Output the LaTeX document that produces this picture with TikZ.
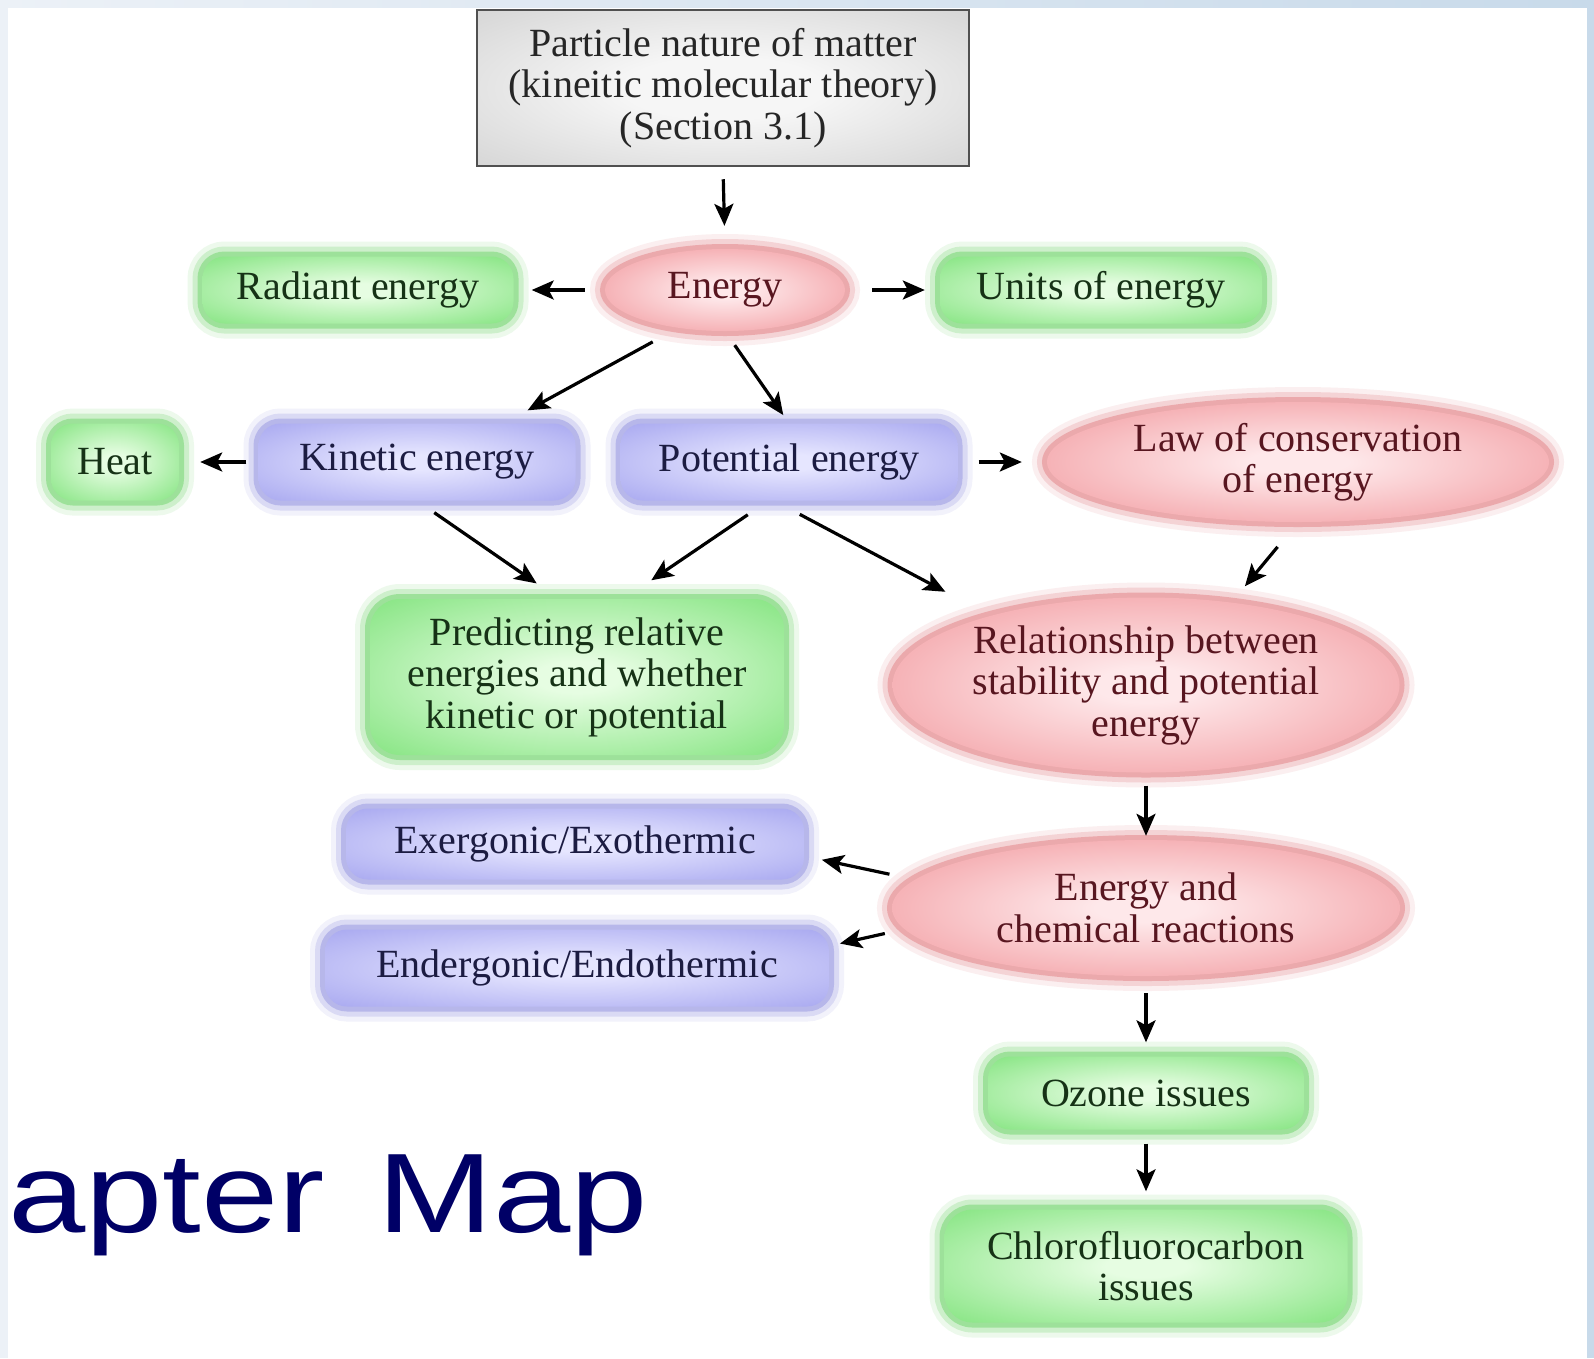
\documentclass[tikz,border=0pt]{standalone}
\usepackage{fontspec}
\setmainfont{Liberation Serif}
\newfontfamily\titlefont{Liberation Sans}
\usepackage{xcolor}
\usetikzlibrary{shapes.geometric, arrows.meta}

\definecolor{grnIn}{RGB}{230,253,226}
\definecolor{grnOut}{RGB}{108,222,104}
\definecolor{grnText}{RGB}{22,50,22}
\definecolor{redIn}{RGB}{254,232,234}
\definecolor{redOut}{RGB}{238,128,134}
\definecolor{redText}{RGB}{88,22,32}
\definecolor{bluIn}{RGB}{230,230,255}
\definecolor{bluOut}{RGB}{152,152,236}
\definecolor{bluText}{RGB}{28,28,66}
\definecolor{greyIn}{RGB}{246,246,246}
\definecolor{greyOut}{RGB}{196,196,196}
\definecolor{boxline}{RGB}{80,80,80}
\definecolor{frameblue}{RGB}{200,218,234}
\definecolor{framelight}{RGB}{236,241,247}
\definecolor{navy}{RGB}{0,0,102}

% soft fills, pale in the middle
\pgfdeclareradialshading{grnglow}{\pgfpointorigin}{color(0bp)=(grnIn); color(5bp)=(grnIn); color(44bp)=(grnOut); color(75bp)=(grnOut)}
\pgfdeclareradialshading{redglow}{\pgfpointorigin}{color(0bp)=(redIn); color(5bp)=(redIn); color(44bp)=(redOut); color(75bp)=(redOut)}
\pgfdeclareradialshading{bluglow}{\pgfpointorigin}{color(0bp)=(bluIn); color(5bp)=(bluIn); color(44bp)=(bluOut); color(75bp)=(bluOut)}
\pgfdeclareradialshading{greyglow}{\pgfpointorigin}{color(0bp)=(greyIn); color(10bp)=(greyIn); color(50bp)=(greyOut); color(75bp)=(greyOut)}

\tikzset{
  halo/.style={preaction={draw=#1, line width=30pt, opacity=.12},
               preaction={draw=#1, line width=20pt, opacity=.25},
               preaction={draw=#1, line width=10pt, opacity=.50}},
  greenbox/.style={rectangle, rounded corners=22pt, shade, shading=grnglow,
                   halo=grnOut!90!gray, text=grnText},
  bluebox/.style={rectangle, rounded corners=22pt, shade, shading=bluglow,
                  halo=bluOut!90!gray, text=bluText},
  redoval/.style={ellipse, shade, shading=redglow,
                  halo=redOut!90!gray, text=redText},
  link/.style={-{Stealth[length=22pt, width=19pt, inset=5pt]}, line width=3.2pt},
}

\begin{document}
\begin{tikzpicture}[x=1pt, y=-1pt,
    every node/.style={font=\fontsize{40}{41.5}\selectfont, align=center, inner sep=0pt}]
  \useasboundingbox (0,0) rectangle (1594,1358);

  % frame
  \fill[white] (0,0) rectangle (1594,1358);
  \fill[framelight] (0,0) rectangle (8,1358);
  \shade[left color=framelight, right color=frameblue] (0,0) rectangle (1594,7);
  \fill[frameblue] (1587,0) rectangle (1594,1358);

  % top box
  \node[draw=boxline, line width=2.5pt, shade, shading=greyglow,
        minimum width=492pt, minimum height=156pt, text=black!85] (matter) at (723,88)
        {Particle nature of matter\\(kineitic molecular theory)\\(Section 3.1)};

  % first row
  \node[redoval, minimum width=240pt, minimum height=82pt] (energy) at (725,290) {Energy};
  \node[greenbox, minimum width=311pt, minimum height=67pt] (radiant) at (358,290) {Radiant energy};
  \node[greenbox, minimum width=322pt, minimum height=67pt] (units) at (1101,290) {Units of energy};

  % second row
  \node[greenbox, minimum width=128pt, minimum height=77pt] (heat) at (115,462) {Heat};
  \node[bluebox, minimum width=317pt, minimum height=77pt] (kinetic) at (417,462) {Kinetic energy};
  \node[bluebox, minimum width=337pt, minimum height=77pt] (potential) at (789,462) {Potential energy};
  \node[redoval, minimum width=502pt, minimum height=120pt] (law) at (1298,462)
        {Law of conservation\\of energy};

  % third row
  \node[greenbox, rounded corners=30pt, minimum width=414pt, minimum height=156pt] (predict) at (577,677)
        {Predicting relative\\energies and whether\\kinetic or potential};
  \node[redoval, minimum width=507pt, minimum height=175pt] (stability) at (1146,685)
        {Relationship between\\stability and potential\\energy};

  % reactions
  \node[bluebox, minimum width=458pt, minimum height=71pt] (exo) at (575,844) {Exergonic/Exothermic};
  \node[bluebox, minimum width=504pt, minimum height=77pt] (endo) at (577,968) {Endergonic/Endothermic};
  \node[redoval, minimum width=508pt, minimum height=136pt] (reactions) at (1146,908)
        {Energy and\\chemical reactions};
  \node[greenbox, minimum width=316pt, minimum height=73pt] (ozone) at (1146,1093) {Ozone issues};
  \node[greenbox, rounded corners=28pt, minimum width=403pt, minimum height=113pt] (cfc) at (1146,1266)
        {Chlorofluorocarbon\\issues};

  \node[anchor=base west, text=navy, font=\titlefont\fontsize{113}{113}\selectfont] (maptitle)
        at (8,1232) {\scalebox{1.23}[1]{apter\hspace{43pt}Map}};

  % arrows
  \draw[link, shorten <=12pt, shorten >=23pt] (matter.south) -- (energy.north);
  \draw[link, shorten <=20pt, shorten >=18pt] (energy.west) -- (radiant.east);
  \draw[link, shorten <=27pt, shorten >=15pt] (energy.east) -- (units.west);
  \draw[link, shorten <=29pt, shorten >=27pt] (energy.219) -- (kinetic.24);
  \draw[link, shorten <=17pt, shorten >=10pt] (energy.south) -- (potential.north);
  \draw[link, shorten <=12pt, shorten >=21pt] (kinetic.west) -- (heat.east);
  \draw[link, shorten <=21pt, shorten >=25pt] (potential.east) -- (law.west);
  \draw[link, shorten <=21pt, shorten >=27pt] (kinetic.south) -- (predict.103);
  \draw[link, shorten <=25pt, shorten >=33pt] (potential.242) -- (predict.59);
  \draw[link, shorten <=29pt, shorten >=51pt] (potential.249) -- (stability.156);
  \draw[link, shorten <=32pt, shorten >=21pt] (law.south) -- (stability.44);
  \draw[link, shorten <=13pt, shorten >=4pt] (stability.south) -- (reactions.north);
  \draw[link, shorten <=26pt, shorten >=18pt] (reactions.173) -- (exo.-3);
  \draw[link, shorten <=20pt, shorten >=11pt] (reactions.185) -- (endo.5);
  \draw[link, shorten <=17pt, shorten >=14pt] (reactions.south) -- (ozone.north);
  \draw[link, shorten <=14pt, shorten >=18pt] (ozone.south) -- (cfc.north);
\end{tikzpicture}
\end{document}
